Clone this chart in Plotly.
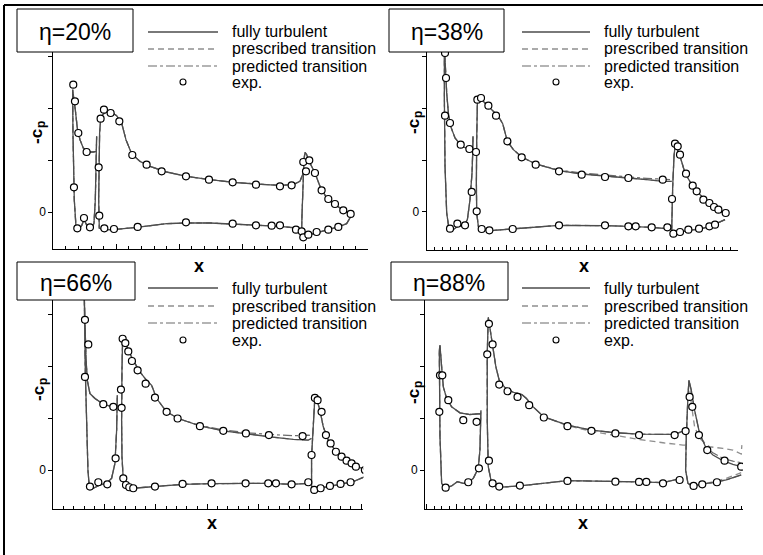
import plotly.graph_objects as go

W, H = 763, 555

# ---------------- Panel 1 : eta = 20% ----------------
P1_SLAT_X = [0.677, 0.635, 0.556, 0.476, 0.423, 0.381, 0.349, 0.328, 0.307, 0.312, 0.323, 0.333, 0.360, 0.397,
             0.450, 0.487, 0.519, 0.556, 0.608, 0.646, 0.667, 0.677, 0.683, 0.688]
P1_SLAT_Y = [1.167, 1.154, 1.154, 1.231, 1.391, 1.615, 1.968, 2.224, 2.353, 1.519, 0.878, 0.237, -0.276, -0.340,
             -0.263, -0.147, -0.224, -0.327, -0.340, -0.212, 0.237, 0.750, 1.071, 1.455]
P1_MAIN_X = [3.942, 3.862, 3.598, 3.228, 2.857, 2.487, 2.116, 1.799, 1.323, 0.952, 0.794, 0.730, 0.720, 0.725,
             0.735, 0.751, 0.783, 0.847, 0.926, 1.005, 1.085, 1.153, 1.243, 1.376, 1.534, 1.799, 2.116, 2.487,
             2.857, 3.228, 3.598, 3.810, 3.915, 3.968]
P1_MAIN_Y = [-0.340, -0.308, -0.276, -0.256, -0.231, -0.212, -0.212, -0.224, -0.295, -0.340, -0.340, -0.308,
             0.237, 0.878, 1.519, 1.776, 1.872, 1.936, 1.917, 1.853, 1.712, 1.391, 1.122, 0.974, 0.878, 0.769,
             0.686, 0.622, 0.571, 0.538, 0.513, 0.526, 0.590, 0.750]
P1_FLAP_X = [4.709, 4.656, 4.550, 4.392, 4.233, 4.074, 3.979, 3.942, 3.947, 3.958, 3.979, 3.995, 4.021, 4.074,
             4.153, 4.233, 4.339, 4.444, 4.550, 4.656, 4.720]
P1_FLAP_Y = [-0.115, -0.224, -0.276, -0.327, -0.372, -0.436, -0.500, -0.404, -0.083, 0.494, 1.006, 1.147, 1.103,
             0.942, 0.750, 0.494, 0.269, 0.160, 0.077, -0.006, -0.051]
P1_EXP_X = [0.317, 0.344, 0.397, 0.529, 0.328, 0.381, 0.487, 0.582,
            0.720, 0.751, 0.804, 0.910, 1.048, 1.254, 1.481, 1.720, 2.106, 2.471, 2.847, 3.217, 3.598, 3.783,
            0.730, 0.810, 0.963, 1.339, 2.106, 2.847, 3.217, 3.466, 3.598, 3.852,
            3.968, 4.011, 4.063, 4.153, 4.259, 4.365, 4.471, 4.603, 4.720,
            3.942, 3.968, 4.048, 4.180, 4.365, 4.524]
P1_EXP_Y = [2.449, 2.128, 1.519, 1.154, 0.474, -0.314, -0.115, -0.295,
            0.859, 1.795, 1.968, 1.904, 1.744, 1.096, 0.910, 0.782, 0.686, 0.622, 0.571, 0.526, 0.494, 0.513,
            -0.071, -0.314, -0.327, -0.288, -0.199, -0.224, -0.256, -0.263, -0.256, -0.340,
            0.962, 0.782, 0.994, 0.750, 0.417, 0.250, 0.154, 0.032, -0.038,
            -0.372, -0.487, -0.436, -0.385, -0.340, -0.288]

# ---------------- Panel 2 : eta = 38% ----------------
P2_SLAT_X = [1.167, 1.042, 0.875, 0.708, 0.600, 0.542, 0.500, 0.475, 0.442, 0.442, 0.458, 0.500, 0.558, 0.667,
             0.792, 0.917, 1.017, 1.083, 1.133, 1.150, 1.158]
P2_SLAT_Y = [1.186, 1.212, 1.263, 1.423, 1.647, 1.904, 2.288, 2.801, 3.186, 2.160, 0.878, -0.019, -0.327, -0.340,
             -0.263, -0.276, -0.147, 0.237, 0.750, 1.135, 1.455]
P2_MAIN_X = [6.100, 5.625, 5.042, 4.458, 3.308, 2.167, 1.583, 1.375, 1.292, 1.250, 1.242, 1.250, 1.267, 1.300,
             1.375, 1.542, 1.667, 1.792, 1.900, 1.958, 2.017, 2.167, 2.375, 2.725, 3.308, 3.875, 4.458, 5.042,
             5.500, 5.917, 6.125]
P2_MAIN_Y = [-0.327, -0.295, -0.276, -0.263, -0.256, -0.327, -0.359, -0.340, -0.276, -0.019, 0.558, 1.391, 2.096,
             2.192, 2.160, 2.032, 1.936, 1.840, 1.699, 1.519, 1.359, 1.199, 1.058, 0.923, 0.795, 0.731, 0.686,
             0.654, 0.622, 0.590, 0.590]
P2_MAIN_PRED_Y = [-0.327, -0.295, -0.276, -0.263, -0.256, -0.327, -0.359, -0.340, -0.276, -0.019, 0.558, 1.391,
                  2.096, 2.192, 2.160, 2.032, 1.936, 1.840, 1.699, 1.519, 1.359, 1.199, 1.058, 0.923, 0.808,
                  0.750, 0.705, 0.673, 0.647, 0.622, 0.622]
P2_FLAP_X = [7.458, 7.250, 7.083, 6.833, 6.542, 6.333, 6.167, 6.125, 6.133, 6.150, 6.183, 6.208, 6.250, 6.333,
             6.458, 6.625, 6.792, 7.000, 7.208, 7.375, 7.475]
P2_FLAP_Y = [-0.147, -0.224, -0.276, -0.327, -0.353, -0.391, -0.423, -0.340, -0.019, 0.494, 1.071, 1.263, 1.231,
             1.071, 0.750, 0.526, 0.365, 0.205, 0.077, -0.006, -0.032]
P2_EXP_X = [0.458, 0.483, 0.458, 0.583, 0.850, 1.067, 1.233, 1.125, 0.583, 0.767, 0.958,
            1.250, 1.267, 1.358, 1.542, 1.733, 2.017, 2.375, 2.725, 3.308, 3.875, 4.458, 5.042, 5.900,
            1.375, 1.567, 2.150, 3.308, 4.458, 5.042, 5.225, 5.625, 6.017,
            6.133, 6.208, 6.275, 6.333, 6.483, 6.650, 6.750, 6.917, 7.067, 7.183, 7.292, 7.475,
            6.167, 6.333, 6.542, 6.808, 7.067, 7.208]
P2_EXP_Y = [3.058, 2.577, 1.853, 1.712, 1.295, 1.212, 1.154, 0.385, -0.321, -0.224, -0.256,
            0.013, 2.160, 2.192, 2.045, 1.853, 1.359, 1.051, 0.910, 0.782, 0.718, 0.673, 0.654, 0.622,
            -0.327, -0.353, -0.327, -0.256, -0.256, -0.276, -0.276, -0.295, -0.295,
            0.250, 1.314, 1.263, 1.103, 0.737, 0.506, 0.397, 0.237, 0.173, 0.096, 0.045, -0.019,
            -0.417, -0.385, -0.340, -0.321, -0.276, -0.244]

# ---------------- Panel 3 : eta = 66% ----------------
P3_SLAT_X = [1.221, 1.039, 0.909, 0.812, 0.714, 0.662, 0.636, 0.623, 0.610, 0.604, 0.610, 0.623, 0.649, 0.675,
             0.701, 0.779, 0.909, 1.039, 1.136, 1.201, 1.234, 1.247, 1.247]
P3_SLAT_Y = [1.201, 1.246, 1.310, 1.374, 1.470, 1.725, 2.173, 2.556, 3.067, 3.323, 2.875, 1.917, 0.958, 0.000,
             -0.319, -0.351, -0.288, -0.256, -0.160, 0.128, 0.767, 1.278, 1.438]
P3_MAIN_X = [4.968, 4.643, 4.188, 3.747, 3.084, 2.519, 1.981, 1.558, 1.429, 1.364, 1.338, 1.331, 1.338, 1.351,
             1.396, 1.461, 1.558, 1.688, 1.818, 1.916, 2.013, 2.208, 2.435, 2.857, 3.312, 3.766, 4.221, 4.675,
             4.968, 5.032]
P3_MAIN_Y = [-0.256, -0.275, -0.256, -0.256, -0.262, -0.275, -0.319, -0.351, -0.319, -0.192, 0.256, 0.958, 1.917,
             2.556, 2.492, 2.300, 2.109, 1.885, 1.725, 1.629, 1.374, 1.118, 0.990, 0.850, 0.754, 0.690, 0.639,
             0.588, 0.575, 0.607]
P3_MAIN_PRED_Y = [-0.256, -0.275, -0.256, -0.256, -0.262, -0.275, -0.319, -0.351, -0.319, -0.192, 0.256, 0.958,
                  1.917, 2.556, 2.492, 2.300, 2.109, 1.885, 1.725, 1.629, 1.374, 1.118, 0.990, 0.856, 0.773,
                  0.716, 0.684, 0.658, 0.671, 0.658]
P3_FLAP_X = [6.071, 5.844, 5.584, 5.390, 5.195, 5.084, 5.032, 5.032, 5.065, 5.097, 5.130, 5.195, 5.260, 5.357,
             5.487, 5.649, 5.844, 6.071]
P3_FLAP_Y = [-0.128, -0.224, -0.275, -0.307, -0.351, -0.396, -0.319, 0.256, 0.958, 1.406, 1.374, 1.150, 0.831,
             0.575, 0.383, 0.224, 0.096, 0.013]
P3_EXP_X = [0.617, 0.682, 0.617, 0.974, 1.169, 1.331, 1.214, 0.714, 0.877, 1.052,
            1.318, 1.351, 1.403, 1.461, 1.532, 1.643, 1.799, 1.981, 2.208, 2.422, 2.857, 3.312, 3.753, 4.201, 4.857,
            1.364, 1.416, 1.481, 1.558, 1.981, 2.519, 3.084, 3.747, 4.188, 4.338, 4.643, 4.968,
            5.032, 5.097, 5.149, 5.227, 5.312, 5.403, 5.506, 5.617, 5.714, 5.812, 5.896, 6.071,
            5.084, 5.208, 5.390, 5.597, 5.792]
P3_EXP_Y = [2.888, 2.415, 1.789, 1.265, 1.214, 1.195, 0.224, -0.319, -0.236, -0.275,
            1.546, 2.524, 2.441, 2.281, 2.096, 1.917, 1.661, 1.393, 1.118, 0.990, 0.843, 0.754, 0.703, 0.671, 0.652,
            -0.160, -0.288, -0.332, -0.351, -0.319, -0.268, -0.256, -0.256, -0.256, -0.256, -0.275, -0.236,
            0.288, 1.387, 1.342, 1.118, 0.671, 0.511, 0.351, 0.256, 0.179, 0.128, 0.064, 0.000,
            -0.383, -0.351, -0.307, -0.268, -0.236]

# ---------------- Panel 4 : eta = 88% ----------------
P4_SLAT_X = [1.811, 1.444, 1.111, 0.833, 0.667, 0.556, 0.500, 0.444, 0.422, 0.433, 0.444, 0.500, 0.611, 0.833,
             1.022, 1.222, 1.389, 1.556, 1.722, 1.778, 1.811, 1.811]
P4_SLAT_Y = [1.086, 1.067, 1.099, 1.214, 1.374, 1.597, 1.981, 2.396, 2.300, 1.278, 0.639, -0.256, -0.351, -0.307,
             -0.224, -0.256, -0.243, -0.160, 0.032, 0.383, 1.022, 1.150]
P4_MAIN_X = [8.500, 7.889, 7.089, 6.300, 4.700, 3.111, 2.422, 2.167, 2.056, 2.022, 2.022, 2.056, 2.111, 2.200,
             2.311, 2.422, 2.611, 2.889, 3.167, 3.333, 3.556, 3.911, 4.700, 5.500, 6.300, 7.089, 7.889, 8.278,
             8.556, 8.644]
P4_MAIN_Y = [-0.160, -0.243, -0.230, -0.217, -0.204, -0.307, -0.332, -0.256, 0.064, 0.958, 2.236, 2.939, 2.716,
             2.428, 1.981, 1.725, 1.585, 1.495, 1.457, 1.374, 1.214, 1.022, 0.863, 0.767, 0.716, 0.690, 0.677,
             0.684, 0.748, 0.767]
P4_MAIN_PRESC_Y = [-0.160, -0.243, -0.230, -0.217, -0.204, -0.307, -0.332, -0.256, 0.064, 0.958, 2.236, 2.939,
                   2.716, 2.428, 1.981, 1.725, 1.585, 1.495, 1.457, 1.374, 1.214, 1.022, 0.856, 0.741, 0.658,
                   0.588, 0.524, 0.490, 0.479, 0.479]
P4_FLAP_X = [10.500, 10.000, 9.556, 9.111, 8.889, 8.722, 8.644, 8.667, 8.722, 8.756, 8.833, 8.944, 9.111, 9.333,
             9.556, 9.889, 10.222, 10.500]
P4_FLAP_Y = [-0.096, -0.192, -0.243, -0.275, -0.319, -0.256, 0.000, 0.639, 1.406, 1.725, 1.534, 1.150, 0.703,
             0.415, 0.288, 0.179, 0.109, 0.064]
P4_FLAP_PRESC_X = [10.500, 10.000, 9.556, 9.111, 8.889, 8.722, 8.644, 8.667, 8.722, 8.756, 8.833, 8.944, 9.111,
                   9.444, 9.889, 10.222, 10.500, 10.522]
P4_FLAP_PRESC_Y = [-0.051, -0.160, -0.230, -0.275, -0.319, -0.256, 0.000, 0.639, 1.406, 1.725, 1.278, 0.831,
                   0.607, 0.447, 0.415, 0.383, 0.307, 0.479]
P4_FLAP_PRED_Y = [-0.096, -0.192, -0.243, -0.275, -0.319, -0.256, 0.000, 0.639, 1.406, 1.725, 1.534, 1.150,
                  0.703, 0.428, 0.332, 0.224, 0.170, 0.141]
P4_EXP_X = [0.444, 0.522, 0.422, 0.722, 1.222, 1.667, 0.633, 1.389, 1.744,
            2.022, 2.078, 2.200, 2.078, 2.422, 2.700, 3.033, 3.422, 3.911, 4.700, 5.500, 6.300, 7.089, 8.278,
            2.200, 2.422, 3.111, 4.700, 6.300, 7.089, 7.333, 7.889, 8.444,
            8.644, 8.778, 8.867, 9.089, 9.367, 9.944, 10.500,
            8.911, 9.200, 9.689]
P4_EXP_Y = [1.821, 1.821, 1.118, 1.342, 0.958, 0.927, -0.339, -0.236, 0.032,
            2.224, 2.812, 2.415, 0.179, 1.642, 1.514, 1.406, 1.246, 1.010, 0.843, 0.754, 0.703, 0.671, 0.671,
            -0.256, -0.319, -0.300, -0.211, -0.224, -0.230, -0.230, -0.256, -0.192,
            0.748, 1.406, 1.214, 0.671, 0.383, 0.179, 0.064,
            -0.307, -0.275, -0.236]

PANEL_TITLES = ["\u03b7=20%", "\u03b7=38%", "\u03b7=66%", "\u03b7=88%"]
LEGEND_LABELS = ["fully turbulent", "prescribed transition", "predicted transition", "exp."]
Y_TICK_VALUES = [0]
Y_TICK_TEXT = ["0"]

panels = [
    dict(turb=[(P1_SLAT_X, P1_SLAT_Y), (P1_MAIN_X, P1_MAIN_Y), (P1_FLAP_X, P1_FLAP_Y)],
         presc=[(P1_SLAT_X, P1_SLAT_Y), (P1_MAIN_X, P1_MAIN_Y), (P1_FLAP_X, P1_FLAP_Y)],
         pred=[(P1_SLAT_X, P1_SLAT_Y), (P1_MAIN_X, P1_MAIN_Y), (P1_FLAP_X, P1_FLAP_Y)],
         exp=(P1_EXP_X, P1_EXP_Y)),
    dict(turb=[(P2_SLAT_X, P2_SLAT_Y), (P2_MAIN_X, P2_MAIN_Y), (P2_FLAP_X, P2_FLAP_Y)],
         presc=[(P2_SLAT_X, P2_SLAT_Y), (P2_MAIN_X, P2_MAIN_Y), (P2_FLAP_X, P2_FLAP_Y)],
         pred=[(P2_SLAT_X, P2_SLAT_Y), (P2_MAIN_X, P2_MAIN_PRED_Y), (P2_FLAP_X, P2_FLAP_Y)],
         exp=(P2_EXP_X, P2_EXP_Y)),
    dict(turb=[(P3_SLAT_X, P3_SLAT_Y), (P3_MAIN_X, P3_MAIN_Y), (P3_FLAP_X, P3_FLAP_Y)],
         presc=[(P3_SLAT_X, P3_SLAT_Y), (P3_MAIN_X, P3_MAIN_Y), (P3_FLAP_X, P3_FLAP_Y)],
         pred=[(P3_SLAT_X, P3_SLAT_Y), (P3_MAIN_X, P3_MAIN_PRED_Y), (P3_FLAP_X, P3_FLAP_Y)],
         exp=(P3_EXP_X, P3_EXP_Y)),
    dict(turb=[(P4_SLAT_X, P4_SLAT_Y), (P4_MAIN_X, P4_MAIN_Y), (P4_FLAP_X, P4_FLAP_Y)],
         presc=[(P4_SLAT_X, P4_SLAT_Y), (P4_MAIN_X, P4_MAIN_PRESC_Y), (P4_FLAP_PRESC_X, P4_FLAP_PRESC_Y)],
         pred=[(P4_SLAT_X, P4_SLAT_Y), (P4_MAIN_X, P4_MAIN_Y), (P4_FLAP_X, P4_FLAP_PRED_Y)],
         exp=(P4_EXP_X, P4_EXP_Y)),
]

# ---------------- layout geometry (pixels) ----------------
def px(x):
    return x / W

def py(y):
    return 1 - y / H

# left, right, top, bottom (px) ; x range ; y range ; minor dtick
geom = [
    dict(l=53.3, r=368.3, t=14, b=248.5, xr=[0, 5.0], yr=[-0.702, 3.808], minor=0.2),
    dict(l=426.7, r=738.3, t=14, b=250, xr=[0, 7.79], yr=[-0.731, 3.808], minor=0.2),
    dict(l=53.3, r=363.3, t=275, b=509, xr=[0, 6.04], yr=[-0.75, 3.75], minor=0.2),
    dict(l=425, r=743, t=275, b=509, xr=[-0.056, 10.56], yr=[-0.75, 3.75], minor=0.25),
]

TURB = dict(color="#4d4d4d", width=1.3)
PRESC = dict(color="#8f8f8f", width=1.3, dash="6px,4px")
PRED = dict(color="#6a6a6a", width=1.2, dash="dashdot")
FONT = "Liberation Sans, Arial, Helvetica, sans-serif"

fig = go.Figure()
layout = dict(width=W, height=H, margin=dict(l=0, r=0, t=0, b=0),
              paper_bgcolor="white", plot_bgcolor="white", showlegend=False,
              font=dict(family=FONT, color="black", size=14))

for i, (p, g) in enumerate(zip(panels, geom)):
    n = i + 1
    xa = "x" if n == 1 else f"x{n}"
    ya = "y" if n == 1 else f"y{n}"
    for (xs, ys) in p["presc"]:
        fig.add_trace(go.Scatter(x=xs, y=ys, mode="lines", line=PRESC, xaxis=xa, yaxis=ya, hoverinfo="skip"))
    for (xs, ys) in p["pred"]:
        fig.add_trace(go.Scatter(x=xs, y=ys, mode="lines", line=PRED, xaxis=xa, yaxis=ya, hoverinfo="skip"))
    for (xs, ys) in p["turb"]:
        fig.add_trace(go.Scatter(x=xs, y=ys, mode="lines", line=TURB, xaxis=xa, yaxis=ya, hoverinfo="skip"))
    ex, ey = p["exp"]
    fig.add_trace(go.Scatter(x=ex, y=ey, mode="markers", xaxis=xa, yaxis=ya, hoverinfo="skip",
                             marker=dict(symbol="circle", size=7, color="white",
                                         line=dict(color="black", width=1.2))))

    layout["xaxis" if n == 1 else f"xaxis{n}"] = dict(
        domain=[px(g["l"]), px(g["r"])], range=g["xr"], anchor=ya,
        showgrid=False, zeroline=False, showline=True, linecolor="black", linewidth=1,
        ticks="inside", ticklen=5, tickcolor="black", tickwidth=1, dtick=1, tick0=0,
        showticklabels=False,
        minor=dict(ticks="inside", ticklen=3, dtick=g["minor"], tick0=0, tickcolor="black", showgrid=False))
    layout["yaxis" if n == 1 else f"yaxis{n}"] = dict(
        domain=[py(g["b"]), py(g["t"])], range=g["yr"], anchor=xa,
        showgrid=False, zeroline=False, showline=True, linecolor="black", linewidth=1,
        ticks="outside", ticklen=4, tickcolor="black", tickvals=Y_TICK_VALUES, ticktext=Y_TICK_TEXT,
        tickfont=dict(size=12, family=FONT),
        minor=dict(ticks="outside", ticklen=4, dtick=1, tick0=0, tickcolor="black", showgrid=False))

fig.update_layout(**layout)

shapes = []
annotations = []

# outer frame (left and top edges)
shapes.append(dict(type="line", xref="paper", yref="paper", x0=px(4), x1=px(763), y0=py(5), y1=py(5),
                   line=dict(color="black", width=2)))
shapes.append(dict(type="line", xref="paper", yref="paper", x0=px(4), x1=px(4), y0=py(5), y1=py(555),
                   line=dict(color="black", width=2)))

# eta boxes (x0, x1, top, bottom, text centre y)
boxes = [(17, 133, 9, 52, 32), (389, 504, 9, 52, 32), (17, 135, 262, 300, 283), (391, 508, 262, 300, 283)]
for (x0, x1, y0, y1, tyc), title in zip(boxes, PANEL_TITLES):
    shapes.append(dict(type="rect", xref="paper", yref="paper", x0=px(x0), x1=px(x1), y0=py(y1), y1=py(y0),
                       fillcolor="white", line=dict(color="black", width=1), layer="above"))
    annotations.append(dict(xref="paper", yref="paper", x=px((x0 + x1) / 2), y=py(tyc),
                            text=title, showarrow=False, xanchor="center", yanchor="middle",
                            font=dict(size=23, family=FONT, color="black")))

# legends
legends = [(148, 218, 230, [32, 49, 66, 82]), (522, 590, 602, [32, 49, 66, 82]),
           (148, 218, 230, [288, 306, 323, 340]), (522, 590, 602, [288, 306, 323, 340])]
styles = [TURB, PRESC, PRED]
for (lx0, lx1, tx, rows) in legends:
    for k in range(3):
        st = dict(styles[k])
        shapes.append(dict(type="line", xref="paper", yref="paper", x0=px(lx0), x1=px(lx1),
                           y0=py(rows[k]), y1=py(rows[k]), line=st))
    cx = (lx0 + lx1) / 2
    shapes.append(dict(type="circle", xref="paper", yref="paper", x0=px(cx - 3), x1=px(cx + 3),
                       y0=py(rows[3] + 3), y1=py(rows[3] - 3), fillcolor="white",
                       line=dict(color="black", width=1.1)))
    for k in range(4):
        annotations.append(dict(xref="paper", yref="paper", x=px(tx), y=py(rows[k]), text=LEGEND_LABELS[k],
                                showarrow=False, xanchor="left", yanchor="middle",
                                font=dict(size=16, family=FONT, color="black")))

# axis titles: "-c" with a separate subscript "p" (rotated)
ylabels = [(36, 133), (413, 123), (38, 390), (413, 393)]
xlabels = [(199, 266), (584, 266), (212, 523), (583, 523)]
for (xx, yy) in ylabels:
    annotations.append(dict(xref="paper", yref="paper", x=px(xx), y=py(yy + 4), text="-c",
                            showarrow=False, textangle=-90, xanchor="center", yanchor="middle",
                            font=dict(size=17, family=FONT, color="black", weight="bold")))
    annotations.append(dict(xref="paper", yref="paper", x=px(xx + 5), y=py(yy - 8), text="p",
                            showarrow=False, textangle=-90, xanchor="center", yanchor="middle",
                            font=dict(size=12, family=FONT, color="black", weight="bold")))
for (xx, yy) in xlabels:
    annotations.append(dict(xref="paper", yref="paper", x=px(xx), y=py(yy), text="x",
                            showarrow=False, xanchor="center", yanchor="middle",
                            font=dict(size=18, family=FONT, color="black", weight="bold")))

fig.update_layout(shapes=shapes, annotations=annotations)
fig.write_html("out.html")
